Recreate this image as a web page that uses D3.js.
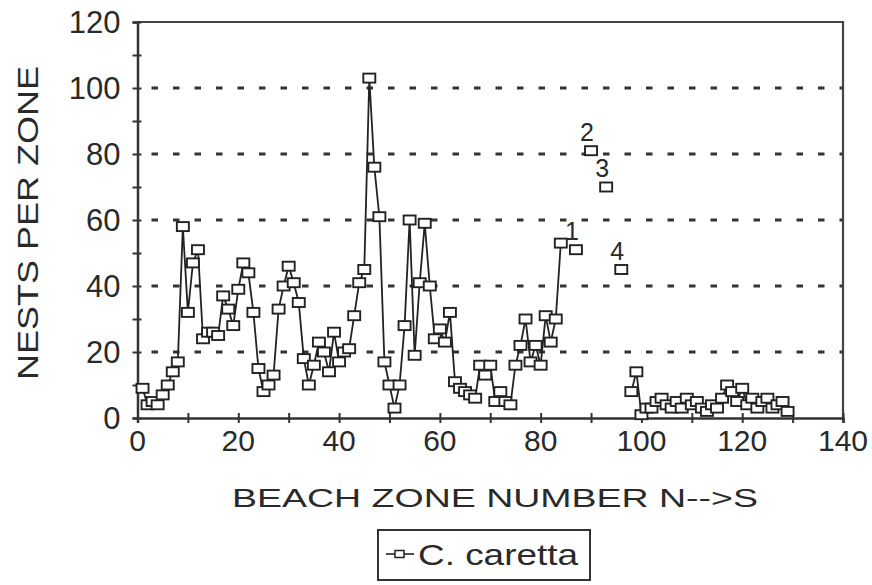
<!DOCTYPE html>
<html>
<head>
<meta charset="utf-8">
<script src="https://cdn.jsdelivr.net/npm/d3@7"></script>
<style>
  body { margin: 0; background: #fff; }
  svg text { font-family: "Liberation Sans", Arial, sans-serif; fill: #2a2a2a; }
</style>
</head>
<body>
<div id="chart"></div>
<script>
// nests per beach zone, north section (connected line)
var northZones = [1,2,3,4,5,6,7,8,9,10,11,12,13,14,15,16,17,18,19,20,21,22,23,24,25,26,27,28,29,30,
  31,32,33,34,35,36,37,38,39,40,41,42,43,44,45,46,47,48,49,50,51,52,53,54,55,56,57,58,59,60,
  61,62,63,64,65,66,67,68,69,70,71,72,73,74,75,76,77,78,79,80,81,82,83,84];
var northNests = [9,4,5,4,7,10,14,17,58,32,47,51,24,26,26,25,37,33,28,39,
  47,44,32,15,8,10,13,33,40,46,41,35,18,10,16,23,20,14,26,17,
  20,21,31,41,45,103,76,61,17,10,3,10,28,60,19,41,59,40,24,27,
  23,32,11,9,8,7,6,16,13,16,5,8,5,4,16,22,30,17,22,16,31,23,30,53];

// numbered single zones (not connected)
var markedZones = [87, 90, 93, 96];
var markedNests = [51, 81, 70, 45];
var markedLabels = ["1", "2", "3", "4"];

// south section (connected line)
var southZones = [98,99,100,101,102,103,104,105,106,107,108,109,110,111,112,113,114,115,
  116,117,118,119,120,121,122,123,124,125,126,127,128,129];
var southNests = [8,14,1,3,3,5,6,4,3,5,3,6,4,5,3,2,4,3,6,10,8,5,9,4,6,3,5,6,3,4,5,2];

var xTicks = [0,20,40,60,80,100,120,140];
var yTicks = [0,20,40,60,80,100,120];

var W = 872, H = 585;
var margin = {top: 22, right: 29, bottom: 167, left: 137.5},
    width = W - margin.left - margin.right,
    height = H - margin.top - margin.bottom;

var svg = d3.select("#chart").append("svg")
    .attr("width", W)
    .attr("height", H);

var g = svg.append("g")
    .attr("transform", `translate(${margin.left},${margin.top})`);

var x = d3.scaleLinear().domain([0, 140]).range([0, width]);
var y = d3.scaleLinear().domain([0, 120]).range([height, 0]);

// dotted gridlines
g.append("g")
  .selectAll("line")
  .data([20,40,60,80,100])
  .enter().append("line")
    .attr("x1", 0).attr("x2", width)
    .attr("y1", d => y(d)).attr("y2", d => y(d))
    .attr("stroke", "#333")
    .attr("stroke-width", 3.2)
    .attr("stroke-dasharray", "6.5,15")
    .attr("stroke-dashoffset", -14);

// frame top/right
g.append("path")
  .attr("d", `M0,0H${width}V${height}`)
  .attr("fill", "none")
  .attr("stroke", "#444")
  .attr("stroke-width", 2.2);

// y axis
var yAxis = g.append("g")
  .call(d3.axisLeft(y).tickValues(d3.range(0, 121, 10)).tickSize(5).tickFormat(""));
yAxis.selectAll("line").attr("x2", -5).attr("x1", 4).attr("stroke", "#333").attr("stroke-width", 2);
yAxis.select(".domain").attr("stroke", "#333").attr("stroke-width", 2.5);

g.append("g").selectAll("text")
  .data(yTicks)
  .enter().append("text")
    .attr("x", -17)
    .attr("y", d => y(d))
    .attr("dy", "0.36em")
    .attr("text-anchor", "end")
    .style("font-size", "31px")
    .text(d => d);

// x axis
var xAxis = g.append("g")
  .attr("transform", `translate(0,${height})`)
  .call(d3.axisBottom(x).tickValues(d3.range(0, 141, 10)).tickSize(5).tickFormat(""));
xAxis.selectAll("line").attr("y1", -5).attr("y2", 5).attr("stroke", "#333").attr("stroke-width", 2);
xAxis.select(".domain").attr("stroke", "#333").attr("stroke-width", 2.5);

g.append("g").selectAll("text")
  .data(xTicks)
  .enter().append("text")
    .attr("x", d => x(d))
    .attr("y", height + 33)
    .attr("text-anchor", "middle")
    .style("font-size", "30px")
    .text(d => d);

// axis titles
svg.append("text")
  .attr("x", 232).attr("y", 507)
  .attr("textLength", 526)
  .attr("lengthAdjust", "spacingAndGlyphs")
  .style("font-size", "25px")
  .text("BEACH  ZONE  NUMBER  N-->S");

svg.append("text")
  .attr("transform", "translate(38,380) rotate(-90)")
  .attr("textLength", 314)
  .attr("lengthAdjust", "spacingAndGlyphs")
  .style("font-size", "29px")
  .text("NESTS  PER  ZONE");

// lines
var line = d3.line().x(d => x(d[0])).y(d => y(d[1]));
var north = northZones.map((z, i) => [z, northNests[i]]);
var south = southZones.map((z, i) => [z, southNests[i]]);

[north, south].forEach(function(seg) {
  g.append("path")
    .datum(seg)
    .attr("fill", "none")
    .attr("stroke", "#222")
    .attr("stroke-width", 1.8)
    .attr("d", line);
});

var all = north.concat(south, markedZones.map((z, i) => [z, markedNests[i]]));
g.append("g").selectAll("rect")
  .data(all)
  .enter().append("rect")
    .attr("x", d => x(d[0]) - 6)
    .attr("y", d => y(d[1]) - 4.5)
    .attr("width", 12)
    .attr("height", 9)
    .attr("fill", "#fff")
    .attr("stroke", "#222")
    .attr("stroke-width", 1.9);

// numbers above the single zones
g.append("g").selectAll("text")
  .data(markedZones)
  .enter().append("text")
    .attr("x", (d, i) => x(d) - 4)
    .attr("y", (d, i) => y(markedNests[i]) - 10)
    .attr("text-anchor", "middle")
    .style("font-size", "25px")
    .text((d, i) => markedLabels[i]);

// legend
var leg = svg.append("g").attr("transform", "translate(378,530)");
leg.append("rect")
  .attr("width", 212).attr("height", 50)
  .attr("fill", "#fff")
  .attr("stroke", "#333")
  .attr("stroke-width", 2);
leg.append("line")
  .attr("x1", 8).attr("x2", 36).attr("y1", 24).attr("y2", 24)
  .attr("stroke", "#222").attr("stroke-width", 1.6);
leg.append("rect")
  .attr("x", 17).attr("y", 20.5).attr("width", 9).attr("height", 7)
  .attr("fill", "#fff").attr("stroke", "#222").attr("stroke-width", 1.5);
leg.append("text")
  .attr("x", 40).attr("y", 35)
  .attr("textLength", 160)
  .attr("lengthAdjust", "spacingAndGlyphs")
  .style("font-size", "30px")
  .text("C. caretta");
</script>
</body>
</html>
